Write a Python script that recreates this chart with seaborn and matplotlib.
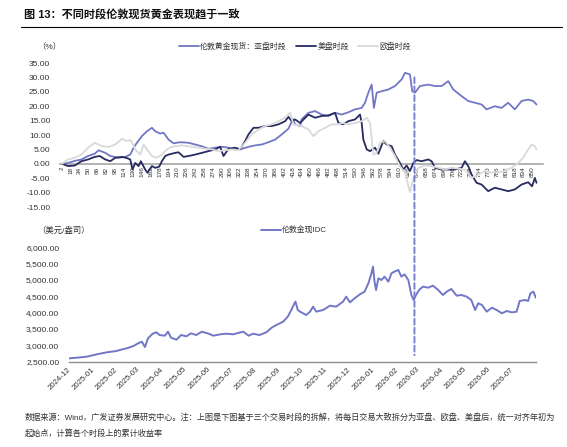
import pandas as pd
import matplotlib
matplotlib.use("Agg")
import matplotlib.pyplot as plt
import matplotlib.dates as mdates
from matplotlib.lines import Line2D
from matplotlib.patches import ConnectionPatch
from matplotlib.ticker import FuncFormatter, FixedLocator
import seaborn as sns

# -----------------------------
# DATA
# -----------------------------
# top: cumulative return per trading session (%), x = slot index
asia_idx = [2, 13, 25, 37, 49, 61, 68, 80, 89, 104, 116, 125, 131, 137, 146, 155, 164, 170,
            179, 185, 194, 203, 215, 230, 242, 254, 266, 278, 290, 302, 314, 326, 338, 350,
            362, 374, 386, 398, 410, 418, 422, 431, 434, 446, 458, 470, 482, 494, 506, 518,
            530, 542, 548, 554, 560, 564, 569, 578, 590, 602, 614, 620, 629, 633, 638, 647,
            662, 674, 686, 698, 707, 722, 734, 746, 758, 767, 782, 794, 806, 818, 830, 842,
            851, 857]
asia_ret = [0.0, 0.3, 1.0, 1.5, 2.7, 3.5, 4.7, 3.8, 2.7, 2.1, 2.4, 3.2, 5.6, 7.3, 9.6, 11.3,
            12.5, 11.3, 10.5, 10.8, 8.4, 7.1, 7.5, 7.3, 6.7, 6.1, 5.2, 5.6, 5.9, 5.6, 5.0, 5.2,
            5.9, 6.4, 6.7, 7.5, 8.4, 10.2, 12.2, 15.5, 13.7, 13.1, 15.5, 17.7, 18.3, 17.1, 16.6,
            17.7, 17.1, 17.9, 18.9, 19.4, 21.2, 24.7, 27.5, 19.4, 24.7, 25.2, 25.8, 27.0, 29.3,
            31.6, 31.0, 25.2, 24.7, 27.0, 27.5, 27.0, 27.0, 28.7, 25.8, 23.5, 21.8, 21.2, 20.6,
            18.9, 20.0, 19.4, 21.2, 18.9, 21.8, 22.3, 21.8, 20.6]

us_idx = [2, 13, 25, 37, 49, 61, 70, 80, 89, 98, 110, 119, 125, 129, 134, 140, 144, 152, 156,
          164, 170, 177, 182, 188, 194, 206, 212, 221, 230, 242, 254, 266, 278, 287, 293, 302,
          314, 323, 332, 338, 347, 356, 368, 380, 392, 404, 410, 416, 422, 431, 446, 458, 470,
          482, 494, 500, 509, 518, 530, 539, 542, 545, 551, 557, 566, 572, 581, 587, 596, 602,
          611, 617, 623, 629, 635, 641, 650, 662, 668, 674, 686, 698, 710, 722, 728, 734, 740,
          749, 758, 770, 782, 794, 806, 818, 830, 842, 849, 854, 857]
us_ret = [0.0, -0.8, -0.6, 0.9, 1.5, 2.4, 2.7, 1.5, 0.9, 2.1, 2.4, 2.0, 1.5, -2.0, 0.3, -0.8,
          0.9, -2.0, -3.1, -0.8, -1.4, -1.0, 0.9, 2.7, 3.2, 3.8, 4.0, 2.4, 2.7, 3.2, 3.8, 4.4,
          5.0, 5.9, 2.7, 5.2, 5.6, 5.0, 7.9, 10.2, 12.5, 12.5, 13.1, 13.1, 13.7, 14.8, 16.3,
          14.8, 15.4, 14.2, 17.1, 16.0, 16.6, 16.8, 17.7, 14.2, 13.7, 14.8, 15.4, 17.1, 14.2,
          8.4, 5.0, 4.4, 5.6, 3.5, 7.9, 6.7, 6.1, 3.2, 0.3, -2.0, -0.6, -2.5, 0.3, 1.3, 0.9,
          1.5, 0.9, -1.4, -2.0, -2.0, -2.0, -1.4, 0.9, -0.8, -3.7, -6.6, -7.2, -9.5, -8.3,
          -8.9, -9.5, -8.9, -7.2, -6.4, -7.8, -4.9, -6.6]

eu_idx = [2, 13, 25, 37, 49, 61, 74, 86, 98, 110, 119, 126, 134, 143, 149, 155, 164, 173, 182,
          191, 200, 218, 236, 248, 260, 272, 284, 296, 308, 320, 332, 344, 356, 368, 380, 392,
          404, 413, 419, 434, 446, 455, 464, 476, 488, 500, 506, 518, 530, 542, 551, 557, 563,
          569, 575, 584, 593, 602, 611, 620, 629, 635, 644, 656, 668, 680, 692, 704, 716, 728,
          740, 752, 764, 776, 788, 800, 812, 824, 833, 842, 848, 854, 857]
eu_ret = [0.0, 1.5, 2.1, 3.2, 5.6, 7.3, 6.1, 5.9, 6.7, 8.7, 7.9, 8.2, 5.0, 3.2, 6.7, 5.0, 2.7,
          2.1, 3.2, 5.0, 5.9, 6.4, 5.9, 5.6, 5.2, 5.0, 4.4, 4.7, 5.0, 4.7, 7.3, 10.2, 11.9,
          13.1, 13.7, 14.8, 16.0, 17.7, 13.7, 13.1, 11.9, 9.6, 11.3, 12.5, 13.7, 13.7, 14.2,
          13.7, 14.2, 14.8, 16.0, 14.2, 3.2, 3.8, 7.3, 7.9, 5.6, 2.7, -0.8, -3.1, -9.8, -5.4,
          -1.4, -0.6, -0.8, -1.4, -2.0, -1.4, -1.7, -2.0, -4.9, -3.7, -2.5, -3.1, -2.9, -2.5,
          -1.4, 0.3, 2.1, 5.0, 6.7, 6.1, 5.0]

top_ticks = list(range(2, 851, 16))

# bottom: London gold spot (USD/oz)
gold_dates = ["2024-11-27", "2024-12-07", "2024-12-20", "2025-01-02", "2025-01-15", "2025-01-28",
              "2025-02-01", "2025-02-10", "2025-02-19", "2025-02-25", "2025-03-02", "2025-03-06",
              "2025-03-10", "2025-03-16", "2025-03-21", "2025-03-25", "2025-04-01", "2025-04-05",
              "2025-04-09", "2025-04-16", "2025-04-22", "2025-04-29", "2025-05-05", "2025-05-12",
              "2025-05-19", "2025-05-28", "2025-06-03", "2025-06-12", "2025-06-20", "2025-06-29",
              "2025-07-05", "2025-07-12", "2025-07-19", "2025-07-25", "2025-08-02", "2025-08-11",
              "2025-08-18", "2025-08-24", "2025-09-02", "2025-09-08", "2025-09-13", "2025-09-16",
              "2025-09-18", "2025-09-21", "2025-09-24", "2025-09-28", "2025-10-02", "2025-10-07",
              "2025-10-11", "2025-10-15", "2025-10-24", "2025-11-02", "2025-11-10", "2025-11-19",
              "2025-11-23", "2025-11-28", "2025-12-04", "2025-12-11", "2025-12-17", "2025-12-22",
              "2025-12-26", "2025-12-28", "2025-12-30", "2026-01-01", "2026-01-04", "2026-01-08",
              "2026-01-12", "2026-01-17", "2026-01-21", "2026-01-25", "2026-01-30", "2026-02-03",
              "2026-02-07", "2026-02-12", "2026-02-16", "2026-02-19", "2026-02-22", "2026-02-26",
              "2026-03-03", "2026-03-10", "2026-03-16", "2026-03-23", "2026-03-29", "2026-04-03",
              "2026-04-09", "2026-04-16", "2026-04-22", "2026-04-29", "2026-05-05", "2026-05-10",
              "2026-05-14", "2026-05-19", "2026-05-25", "2026-06-01", "2026-06-07", "2026-06-14",
              "2026-06-20", "2026-06-27", "2026-07-03", "2026-07-07", "2026-07-14", "2026-07-18",
              "2026-07-21", "2026-07-25", "2026-07-28"]
gold_price = [2602, 2622, 2653, 2724, 2786, 2827, 2857, 2908, 2980, 3061, 3112, 2949, 3214,
              3357, 3398, 3316, 3296, 3418, 3235, 3173, 3316, 3276, 3367, 3316, 3418, 3357,
              3296, 3337, 3357, 3337, 3378, 3418, 3296, 3357, 3316, 3398, 3541, 3622, 3724,
              3878, 4100, 4255, 4340, 4082, 4031, 3980, 3929, 4031, 4184, 4031, 4082, 4214,
              4184, 4337, 4490, 4316, 4439, 4561, 4643, 4898, 5204, 5408, 4949, 4694, 5051,
              5000, 5102, 4949, 5204, 5255, 5306, 5102, 5173, 5000, 4541, 4388, 4541, 4694,
              4796, 4765, 4827, 4694, 4541, 4643, 4725, 4520, 4541, 4490, 4388, 4082, 4286,
              4235, 4031, 4153, 4082, 3980, 4051, 4010, 4031, 4357, 4388, 4357, 4592, 4643,
              4459]

split_idx = 637
split_date = "2026-02-20"

# -----------------------------
# STYLE
# -----------------------------
sns.set_style("white")
plt.rcParams["font.family"] = ["Liberation Sans", "Noto Sans CJK SC"]
plt.rcParams["axes.unicode_minus"] = False

C_ASIA = "#7177C6"
C_US = "#272B5F"
C_EU = "#D9D9D9"
TXT = "#333333"

W, H = 567, 447
fig = plt.figure(figsize=(W / 100, H / 100), dpi=100)


def px_box(left, top, right, bottom):
    return [left / W, 1 - bottom / H, (right - left) / W, (bottom - top) / H]


# -----------------------------
# TOP PANEL
# -----------------------------
ax1 = fig.add_axes(px_box(60, 63, 543, 207))
sns.lineplot(x=asia_idx, y=asia_ret, ax=ax1, color=C_ASIA, linewidth=1.3,
             label="伦敦黄金现货：亚盘时段", zorder=3)
sns.lineplot(x=us_idx, y=us_ret, ax=ax1, color=C_US, linewidth=1.3,
             label="美盘时段", zorder=4)
sns.lineplot(x=eu_idx, y=eu_ret, ax=ax1, color=C_EU, linewidth=1.3,
             label="欧盘时段", zorder=5)
handles, labels = ax1.get_legend_handles_labels()
ax1.get_legend().remove()

ax1.set_xlim(-1.6, 868.7)
ax1.set_ylim(-15, 35)
ax1.set_yticks(range(-15, 36, 5))
ax1.yaxis.set_major_formatter(FuncFormatter(lambda v, p: f"{v:.2f}"))
ax1.xaxis.set_major_locator(FixedLocator(top_ticks))
ax1.xaxis.set_major_formatter(FuncFormatter(lambda v, p: f"{int(round(v))}"))
for s in ["top", "right", "left"]:
    ax1.spines[s].set_visible(False)
ax1.spines["bottom"].set_position(("data", 0))
ax1.spines["bottom"].set_color("#A6A6A6")
ax1.spines["bottom"].set_linewidth(1.2)
ax1.tick_params(axis="both", length=0)
ax1.tick_params(axis="x", labelrotation=90, labelsize=4.6, labelcolor=TXT, pad=2)
ax1.tick_params(axis="y", labelsize=6, labelcolor=TXT, pad=7)
ax1.set_xlabel("")
ax1.set_ylabel("")

fig.legend(handles, labels, loc="center left", bbox_to_anchor=(172 / W, 1 - 46.5 / H),
           ncol=3, frameon=False, fontsize=5.7, handlelength=2.5, handletextpad=0.15,
           columnspacing=1.2, labelcolor=TXT)
fig.text(37 / W, 1 - 46.5 / H, "（%）", fontsize=6, color=TXT, ha="left", va="center")

# -----------------------------
# BOTTOM PANEL
# -----------------------------
ax2 = fig.add_axes(px_box(69, 247.3, 536, 361.7))
gold = pd.DataFrame({"date": pd.to_datetime(gold_dates), "price": gold_price})
sns.lineplot(data=gold, x="date", y="price", ax=ax2, color=C_ASIA, linewidth=1.4,
             label="伦敦金现IDC")
h2, l2 = ax2.get_legend_handles_labels()
ax2.get_legend().remove()

ax2.set_xlim(pd.Timestamp("2024-11-27 02:00"), pd.Timestamp("2026-07-28 07:00"))
ax2.set_ylim(2500, 6000)
ax2.set_yticks(range(2500, 6001, 500))
ax2.yaxis.set_major_formatter(FuncFormatter(lambda v, p: f"{v:,.2f}"))
ax2.xaxis.set_major_locator(mdates.MonthLocator())
ax2.xaxis.set_major_formatter(mdates.DateFormatter("%Y-%m"))
for lab in ax2.get_xticklabels():
    lab.set_rotation(45)
    lab.set_ha("right")
for s in ["top", "right", "left"]:
    ax2.spines[s].set_visible(False)
ax2.spines["bottom"].set_color("#8C8C8C")
ax2.spines["bottom"].set_linewidth(1.0)
ax2.tick_params(axis="both", length=0)
ax2.tick_params(axis="x", labelsize=5.6, labelcolor=TXT, pad=3)
ax2.tick_params(axis="y", labelsize=6, labelcolor=TXT, pad=7)
ax2.set_xlabel("")
ax2.set_ylabel("")

fig.legend(h2, l2, loc="center left", bbox_to_anchor=(254 / W, 1 - 230.5 / H),
           frameon=False, fontsize=5.7, handlelength=2.5, handletextpad=0.15, labelcolor=TXT)
fig.text(37 / W, 1 - 231 / H, "（美元/盎司）", fontsize=6, color=TXT, ha="left", va="center")

# dashed marker spanning both panels
con = ConnectionPatch(xyA=(split_idx, 30), coordsA=ax1.transData,
                      xyB=(mdates.date2num(pd.Timestamp(split_date)), 2700), coordsB=ax2.transData,
                      color="#7B80CF", linewidth=1.4, linestyle=(0, (3, 1.6)), zorder=10)
fig.add_artist(con)

# -----------------------------
# TITLE / NOTES
# -----------------------------
fig.text(24 / W, 1 - 14 / H, "图 13：不同时段伦敦现货黄金表现趋于一致", fontsize=8,
         fontweight="bold", color="#111111", ha="left", va="center")
fig.add_artist(Line2D([21 / W, 562 / W], [1 - 27 / H] * 2, color="black", linewidth=0.8))
fig.text(25 / W, 1 - 417 / H,
         "数据来源：Wind，广发证券发展研究中心。注：上图是下图基于三个交易时段的拆解，"
         "将每日交易大致拆分为亚盘、欧盘、美盘后，统一对齐年初为",
         fontsize=5.9, color=TXT, ha="left", va="center")
fig.text(25 / W, 1 - 433 / H, "起始点，计算各个时段上的累计收益率",
         fontsize=5.9, color=TXT, ha="left", va="center")

fig.savefig("out.png", dpi=100)
